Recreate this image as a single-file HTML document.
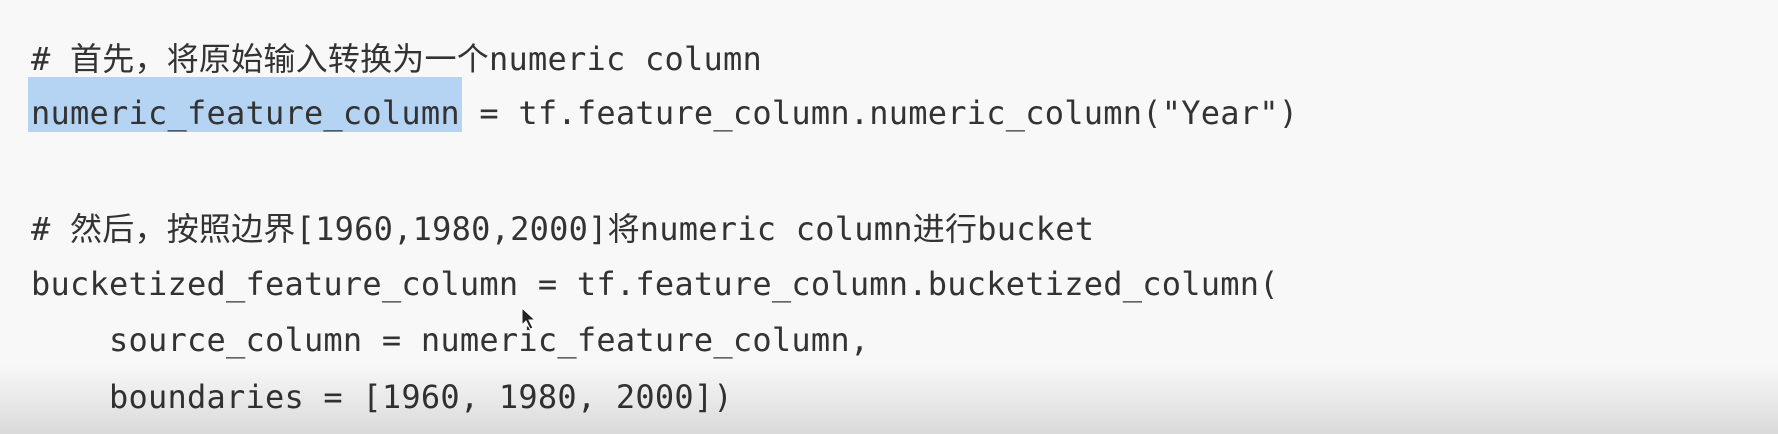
<!DOCTYPE html>
<html><head><meta charset="utf-8"><style>
html,body{margin:0;padding:0}
body{width:1778px;height:434px;overflow:hidden;background:#f8f8f8;position:relative;
font-family:"DejaVu Sans Mono","Liberation Mono","Noto Sans CJK SC",monospace;font-size:32px;color:#333;letter-spacing:0.23px}
.l{position:absolute;left:31px;white-space:pre;line-height:40px}
.cjk{font-family:"Noto Sans CJK SC",sans-serif;font-size:32px}
.hl{position:absolute;left:28px;top:77px;width:434px;height:55px;background:#b5d3f3}
.shade{position:absolute;left:0;right:0;bottom:0;height:70px;background:linear-gradient(to bottom,rgba(0,0,0,0),rgba(0,0,0,0.12))}
</style></head><body>
<div class="hl"></div>
<div class="l" style="top:37px"># <span class="cjk">首先，将原始输入转换为一个</span>numeric column</div>
<div class="l" style="top:93px">numeric_feature_column = tf.feature_column.numeric_column("Year")</div>
<div class="l" style="top:207px"># <span class="cjk">然后，按照边界</span>[1960,1980,2000]<span class="cjk">将</span>numeric column<span class="cjk">进行</span>bucket</div>
<div class="l" style="top:264px">bucketized_feature_column = tf.feature_column.bucketized_column(</div>
<div class="l" style="top:320px">    source_column = numeric_feature_column,</div>
<div class="l" style="top:377px">    boundaries = [1960, 1980, 2000])</div>
<svg style="position:absolute;left:520px;top:306px" width="20" height="26"><path d="M2,2 L2,19 L6,15 L10,23 L13,22 L9,14 L15,14 Z" fill="#222" stroke="#fff" stroke-width="1"/></svg>
<div class="shade"></div>
</body></html>
